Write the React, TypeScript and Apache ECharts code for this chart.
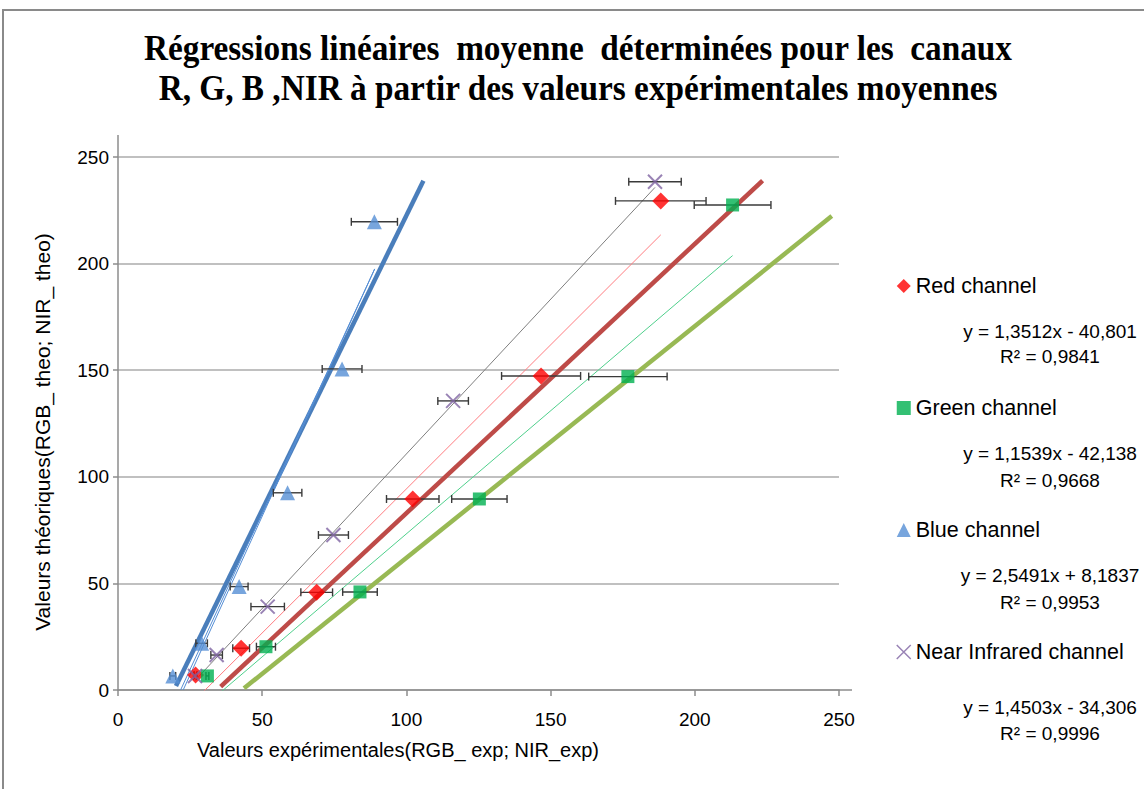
import React, { useEffect, useRef } from "react";
import * as echarts from "echarts";

const titleLines = [
  "Régressions linéaires  moyenne  déterminées pour les  canaux",
  "R, G, B ,NIR à partir des valeurs expérimentales moyennes",
];
const xAxisTitle = "Valeurs expérimentales(RGB_ exp; NIR_exp)";
const yAxisTitle = "Valeurs théoriques(RGB_ theo; NIR_ theo)";
const seriesNames = ["Red channel", "Green channel", "Blue channel", "Near Infrared channel"];

const redX = [26.9, 42.7, 68.9, 102.2, 146.7, 188.2];
const redY = [7.0, 19.6, 45.8, 89.6, 147.3, 229.4];
const redErr = [0.5, 2.9, 5.5, 9.1, 13.7, 15.7];

const greenX = [31.0, 51.3, 83.9, 125.3, 176.8, 213.1];
const greenY = [6.6, 20.3, 46.0, 89.6, 147.0, 227.5];
const greenErr = [0.5, 3.3, 6.0, 9.6, 13.6, 13.3];

const blueX = [19.0, 29.0, 42.0, 58.8, 77.7, 88.9];
const blueY = [6.6, 21.9, 48.5, 92.5, 150.6, 219.6];
const blueErr = [1.0, 2.0, 3.1, 4.95, 6.9, 8.0];

const nirX = [26.7, 34.2, 51.9, 74.7, 116.2, 186.2];
const nirY = [6.6, 16.4, 39.1, 72.7, 135.6, 238.4];
const nirErr = [0.5, 2.0, 5.8, 5.2, 5.3, 9.1];

// trendline equations (as labelled)
const slopes = [1.3512, 1.1539, 2.5491, 1.4503];
const intercepts = [-40.801, -42.138, 8.1837, -34.306];
const eqLabels = [
  "y = 1,3512x - 40,801",
  "y = 1,1539x - 42,138",
  "y = 2,5491x + 8,1837",
  "y = 1,4503x - 34,306",
];
const r2Labels = ["R² = 0,9841", "R² = 0,9668", "R² = 0,9953", "R² = 0,9996"];

// thick reference lines
const thickBlueX = [20.1, 105.9];
const thickBlueY = [1.9, 238.9];
const thickRedX = [35.6, 223.5];
const thickRedY = [1.6, 238.9];
const thickGreenX = [43.7, 247.5];
const thickGreenY = [0.8, 222.3];

// thin blue trend lines as drawn
const blueTrendAX = [21.7, 89.0];
const blueTrendAY = [0, 197.5];
const blueTrendBX = [22.6, 89.0];
const blueTrendBY = [0, 197.5];

const zip = (xs: number[], ys: number[]) => xs.map((x, i) => [x, ys[i]]);
const zip3 = (xs: number[], ys: number[], es: number[]) => xs.map((x, i) => [x, ys[i], es[i]]);
const trend = (xs: number[], k: number) => {
  const lo = Math.min(...xs);
  const hi = Math.max(...xs);
  return [
    [lo, slopes[k] * lo + intercepts[k]],
    [hi, slopes[k] * hi + intercepts[k]],
  ];
};

const FONT = "'Liberation Sans', Arial, sans-serif";
const AXIS_COLOR = "#8c8c8c";
// label block vertical positions (layout)
const eqPosY = [331, 453, 575, 707];
const r2PosY = [356, 480, 602, 733];

export default function App() {
  const ref = useRef<HTMLDivElement>(null);
  useEffect(() => {
    if (!ref.current) return;
    const chart = echarts.init(ref.current, null, { renderer: "svg" });

    const errSeries = (name: string, xs: number[], ys: number[], es: number[]) => ({
      type: "custom",
      name,
      z: 3,
      encode: { x: 0, y: 1 },
      data: zip3(xs, ys, es),
      renderItem: (params: any, api: any) => {
        const x = api.value(0);
        const y = api.value(1);
        const e = api.value(2);
        const a = api.coord([x - e, y]);
        const b = api.coord([x + e, y]);
        const style = { stroke: "#3a3a3a", lineWidth: 1.4 };
        const h = 4;
        return {
          type: "group",
          children: [
            { type: "line", shape: { x1: a[0], y1: a[1], x2: b[0], y2: b[1] }, style },
            { type: "line", shape: { x1: a[0], y1: a[1] - h, x2: a[0], y2: a[1] + h }, style },
            { type: "line", shape: { x1: b[0], y1: b[1] - h, x2: b[0], y2: b[1] + h }, style },
          ],
        };
      },
    });

    const lineSeries = (name: string, data: number[][], color: string, width: number, z = 2) => ({
      type: "line",
      name,
      z,
      data,
      showSymbol: false,
      symbol: "none",
      lineStyle: { color, width },
      silent: true,
    });

    const xPath = "path://M0,0L10,10M0,10L10,0";

    chart.setOption({
      animation: false,
      backgroundColor: "#ffffff",
      grid: { left: 118, right: 305, top: 157, bottom: 99, containLabel: false },
      xAxis: {
        type: "value",
        min: 0,
        max: 250,
        interval: 50,
        name: xAxisTitle,
        nameLocation: "middle",
        nameGap: 50,
        nameMoveOverlap: false,
        nameTextStyle: { fontFamily: FONT, fontSize: 20, color: "#000", padding: [0, 161, 0, 0] },
        axisLine: { show: true, lineStyle: { color: AXIS_COLOR, width: 1.5 } },
        axisTick: { show: true, length: 6, lineStyle: { color: AXIS_COLOR, width: 1.5 } },
        axisLabel: { fontFamily: FONT, fontSize: 19, color: "#000", margin: 20 },
        splitLine: { show: false },
      },
      yAxis: {
        type: "value",
        min: 0,
        max: 250,
        interval: 50,
        name: yAxisTitle,
        nameLocation: "middle",
        nameGap: 65,
        nameTextStyle: { fontFamily: FONT, fontSize: 21, color: "#000", padding: [0, 17, 0, 0] },
        axisLine: { show: true, lineStyle: { color: AXIS_COLOR, width: 1.5 } },
        axisTick: { show: true, length: 5, lineStyle: { color: AXIS_COLOR, width: 1.5 } },
        axisLabel: { fontFamily: FONT, fontSize: 19, color: "#000", margin: 9 },
        splitLine: { show: true, lineStyle: { color: "#ababab", width: 1.5 } },
      },
      legend: {
        orient: "vertical",
        left: 891,
        top: 270,
        itemGap: 100,
        itemWidth: 14,
        itemHeight: 14,
        selectedMode: false,
        textStyle: { fontFamily: FONT, fontSize: 21.5, color: "#000", lineHeight: 22 },
        data: [
          { name: seriesNames[0], icon: "diamond", itemStyle: { color: "#ff0000" } },
          { name: seriesNames[1], icon: "rect", itemStyle: { color: "#00b050" } },
          { name: seriesNames[2], icon: "triangle", itemStyle: { color: "#558ed5" } },
          {
            name: seriesNames[3],
            icon: xPath,
            itemStyle: { color: "rgba(0,0,0,0)", borderColor: "#8064a2", borderWidth: 1.5 },
          },
        ],
      },
      graphic: [
        {
          type: "rect",
          shape: { x: 3, y: 10, width: 1300, height: 1000 },
          style: { fill: "none", stroke: "#8a8a8a", lineWidth: 2 },
          silent: true,
        },
        {
          type: "line",
          shape: { x1: 118, y1: 135, x2: 118, y2: 157 },
          style: { stroke: AXIS_COLOR, lineWidth: 1.5 },
          silent: true,
        },
        {
          type: "line",
          shape: { x1: 839, y1: 690, x2: 852, y2: 690 },
          style: { stroke: AXIS_COLOR, lineWidth: 1.5 },
          silent: true,
        },
        ...titleLines.map((t, i) => ({
          type: "text",
          x: 578,
          y: 48 + i * 40,
          scaleX: 0.925,
          style: {
            text: t,
            fontFamily: "'Liberation Serif', 'Times New Roman', serif",
            fontWeight: "bold",
            fontSize: 36,
            fill: "#000",
            textAlign: "center",
            textVerticalAlign: "middle",
          },
        })),
        ...eqLabels.map((t, i) => ({
          type: "text",
          x: 1050,
          y: eqPosY[i],
          style: { text: t, fontFamily: FONT, fontSize: 19, fill: "#000", textAlign: "center", textVerticalAlign: "middle" },
        })),
        ...r2Labels.map((t, i) => ({
          type: "text",
          x: 1050,
          y: r2PosY[i],
          style: { text: t, fontFamily: FONT, fontSize: 19, fill: "#000", textAlign: "center", textVerticalAlign: "middle" },
        })),
      ],
      series: [
        lineSeries("Blue reference", zip(thickBlueX, thickBlueY), "#4a7ebb", 4.5),
        lineSeries("Red reference", zip(thickRedX, thickRedY), "#be4b48", 4.5),
        lineSeries("Green reference", zip(thickGreenX, thickGreenY), "#98b954", 4.5),
        lineSeries("Blue trend A", zip(blueTrendAX, blueTrendAY), "#558ed5", 1),
        lineSeries("Blue trend B", zip(blueTrendBX, blueTrendBY), "#558ed5", 1),
        lineSeries("Red trend", trend(redX, 0), "#ff7c80", 1),
        lineSeries("Green trend", trend(greenX, 1), "#4fd08c", 1),
        lineSeries("NIR trend", trend(nirX, 3), "#7f7f7f", 1),
        errSeries("Red err", redX, redY, redErr),
        errSeries("Green err", greenX, greenY, greenErr),
        errSeries("Blue err", blueX, blueY, blueErr),
        errSeries("NIR err", nirX, nirY, nirErr),
        {
          type: "scatter",
          name: seriesNames[0],
          z: 4,
          symbol: "diamond",
          symbolSize: 17,
          itemStyle: { color: "#ff0000" },
          data: zip(redX, redY),
        },
        {
          type: "scatter",
          name: seriesNames[1],
          z: 4,
          symbol: "rect",
          symbolSize: 13,
          itemStyle: { color: "#00b050" },
          data: zip(greenX, greenY),
        },
        {
          type: "scatter",
          name: seriesNames[2],
          z: 4,
          symbol: "triangle",
          symbolSize: 15,
          itemStyle: { color: "#558ed5" },
          data: zip(blueX, blueY),
        },
        {
          type: "scatter",
          name: seriesNames[3],
          z: 4,
          symbol: xPath,
          symbolSize: 14,
          itemStyle: { color: "rgba(0,0,0,0)", borderColor: "#8064a2", borderWidth: 2 },
          data: zip(nirX, nirY),
        },
      ],
    });
    return () => chart.dispose();
  }, []);

  return (
    <div
      ref={ref}
      style={{ position: "fixed", left: 0, top: 0, width: 1144, height: 789, background: "#fff" }}
    />
  );
}
